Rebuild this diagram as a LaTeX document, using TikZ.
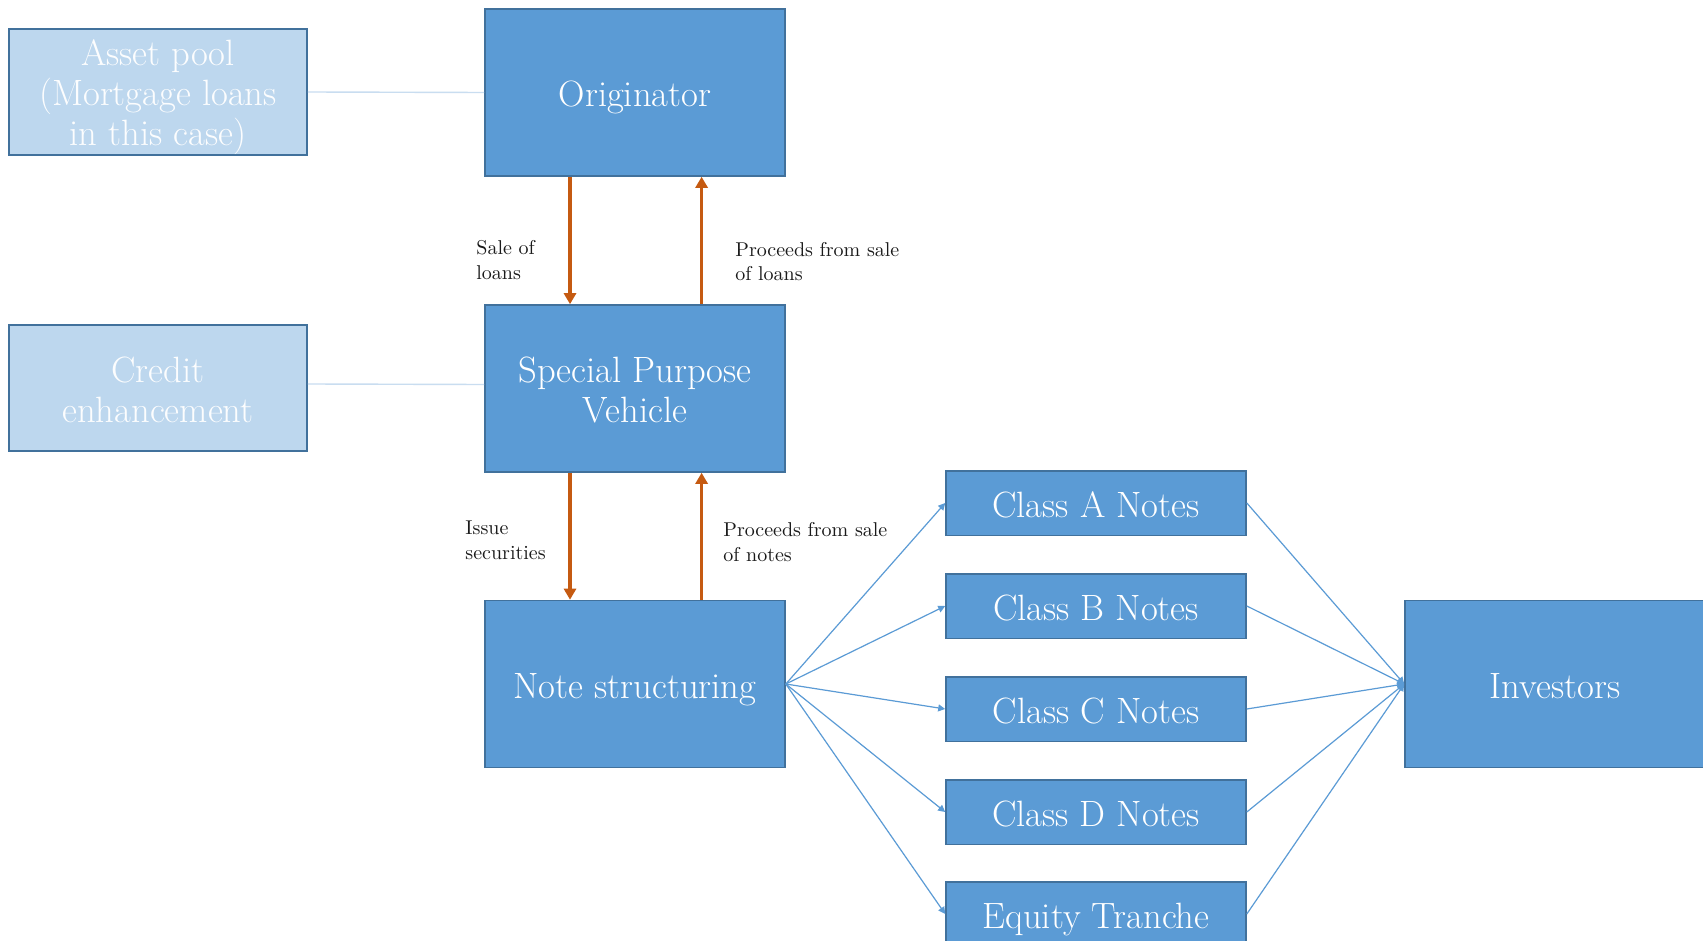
\documentclass[tikz,border=0pt]{standalone}
\usepackage{fontspec}
\usetikzlibrary{arrows.meta}
\definecolor{boxblue}{HTML}{5B9BD5}
\definecolor{edgeblue}{HTML}{41719C}
\definecolor{lightfill}{HTML}{BDD7EE}
\definecolor{flowor}{HTML}{C55A11}
\definecolor{paleline}{HTML}{C9DDF0}
\definecolor{labeltext}{HTML}{1A1A1A}
\newcommand{\boxtext}[1]{\raisebox{-3pt}[\height][\depth]{\begin{tabular}{@{}c@{}}#1\end{tabular}}}
\begin{document}
\begin{tikzpicture}[x=0.5pt,y=-0.5pt,
  bigbox/.style={draw=edgeblue, line width=0.8pt, fill=boxblue, text=white,
    minimum width=150pt, minimum height=83.5pt, inner sep=0pt,
    font=\fontsize{18.3}{20}\selectfont},
  notebox/.style={draw=edgeblue, line width=0.8pt, fill=boxblue, text=white,
    minimum width=150pt, minimum height=32.3pt, inner sep=0pt,
    font=\fontsize{18.3}{20}\selectfont},
  palebox/.style={draw=edgeblue, line width=0.8pt, fill=lightfill, text=white!96!lightfill,
    minimum width=149pt, minimum height=63pt, inner sep=0pt,
    font=\fontsize{18.3}{20}\selectfont},
  flowlabel/.style={anchor=west, align=left, text=labeltext, inner sep=0pt,
    font=\fontsize{10}{12.3}\selectfont},
  orarrow/.style={draw=flowor, line width=1.6pt, -{Triangle[width=6pt,length=5.5pt]}},
  bluearrow/.style={draw=boxblue, line width=0.6pt, -{Triangle[width=3.5pt,length=3.5pt]}},
  paleconn/.style={draw=paleline, line width=0.7pt}
]
\useasboundingbox (0,0) rectangle (1703,941);
\clip (0,0) rectangle (1703,941);
\fill[white] (0,0) rectangle (1703,941);

% nodes
\node[palebox] (asset) at (158,92) {\boxtext{Asset pool\\(Mortgage loans\\in this case)}};
\node[palebox] (credit) at (158,388) {\boxtext{Credit\\enhancement}};
\node[bigbox] (orig) at (635,92.5) {\boxtext{Originator}};
\node[bigbox] (spv) at (635,388.5) {\boxtext{Special Purpose\\Vehicle}};
\node[bigbox] (note) at (635,684) {\boxtext{Note structuring}};
\node[notebox] (ca) at (1096,503) {\boxtext{Class A Notes}};
\node[notebox] (cb) at (1096,606) {\boxtext{Class B Notes}};
\node[notebox] (cc) at (1096,709) {\boxtext{Class C Notes}};
\node[notebox] (cd) at (1096,812) {\boxtext{Class D Notes}};
\node[notebox] (eq) at (1096,914) {\boxtext{Equity Tranche}};
\node[bigbox] (inv) at (1555,684) {\boxtext{Investors}};

% pale connectors
\draw[paleconn] (asset.east) -- (orig.west);
\draw[paleconn] ([yshift=2pt]credit.east) -- ([yshift=2pt]spv.west);

% orange flows
\draw[orarrow] ([xshift=-32.5pt]orig.south) -- ([xshift=-32.5pt]spv.north);
\draw[orarrow] ([xshift=33.3pt]spv.north) -- ([xshift=33.3pt]orig.south);
\draw[orarrow] ([xshift=-32.5pt]spv.south) -- ([xshift=-32.5pt]note.north);
\draw[orarrow] ([xshift=33.3pt]note.north) -- ([xshift=33.3pt]spv.south);

% labels
\node[flowlabel] (l1) at (476,260) {Sale of\\loans};
\node[flowlabel] (l2) at (735,261.5) {Proceeds from sale\\of loans};
\node[flowlabel] (l3) at (465,540) {Issue\\securities};
\node[flowlabel] (l4) at (723,542) {Proceeds from sale\\of notes};

% fan out
\foreach \t in {ca,cb,cc,cd,eq}{
  \draw[bluearrow] (note.east) -- (\t.west);
  \draw[bluearrow] (\t.east) -- (inv.west);
}
\end{tikzpicture}
\end{document}
